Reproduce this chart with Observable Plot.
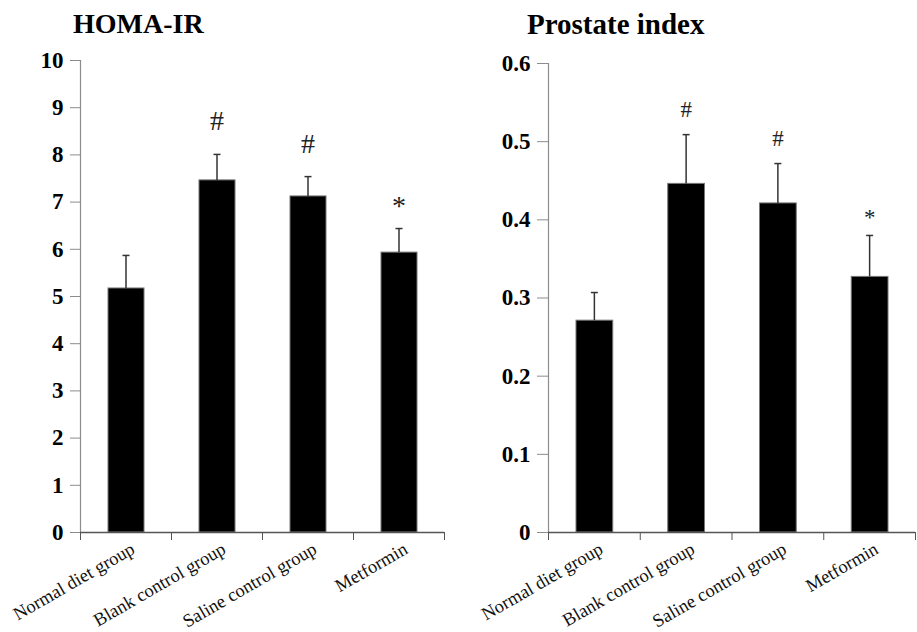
<!DOCTYPE html>
<html><head><meta charset="utf-8">
<script src="https://cdn.jsdelivr.net/npm/d3@7"></script>
<script src="https://cdn.jsdelivr.net/npm/@observablehq/plot@0.6"></script>
<style>
body{margin:0;background:#fff;}
#wrap{position:relative;width:917px;height:632px;font-family:"Liberation Serif","Times New Roman",serif;overflow:hidden;}
#wrap svg, #wrap svg text{font-family:"Liberation Serif","Times New Roman",serif !important;}
.title{position:absolute;font-weight:bold;line-height:1;white-space:nowrap;color:#000;}
.panel{position:absolute;top:0;}
</style></head><body>
<div id="wrap">
  <div id="p1" class="panel" style="left:0px"></div>
  <div id="p2" class="panel" style="left:460px"></div>
  <div class="title" style="left:73px;top:10px;font-size:28px">HOMA-IR</div>
  <div class="title" style="left:527px;top:10px;font-size:29px">Prostate index</div>
</div>
<script>
// ---- data ----
const categories = ["Normal diet group", "Blank control group", "Saline control group", "Metformin"];
const homaMean = [5.17, 7.46, 7.12, 5.93];
const homaErr = [0.70, 0.55, 0.42, 0.51];
const homaMarks = ["", "#", "#", "*"];
const homaTicks = [0, 1, 2, 3, 4, 5, 6, 7, 8, 9, 10];
const prostateMean = [0.271, 0.446, 0.421, 0.327];
const prostateErr = [0.036, 0.063, 0.051, 0.053];
const prostateMarks = ["", "#", "#", "*"];
const prostateTicks = [0, 0.1, 0.2, 0.3, 0.4, 0.5, 0.6];

const SERIF = "Liberation Serif, Times New Roman, serif";
const capSymbol = {
  draw(ctx, size) {
    const w = Math.sqrt(size / Math.PI);
    ctx.moveTo(-w, 0);
    ctx.lineTo(w, 0);
  }
};

function panel(o) {
  const rows = categories.map((c, i) => ({i, c, v: o.means[i], e: o.means[i] + o.errs[i], m: o.marks[i]}));
  const bounds = d3.range(categories.length + 1);
  const yDomain = [o.ticks[0], o.ticks[o.ticks.length - 1]];
  return Plot.plot({
    width: o.width, height: 632,
    marginLeft: o.marginLeft, marginRight: o.marginRight, marginTop: o.marginTop, marginBottom: 100,
    style: {fontFamily: SERIF, background: "transparent", overflow: "visible", color: "#000"},
    x: {type: "linear", domain: [0, categories.length], axis: null},
    y: {domain: yDomain, axis: null},
    marks: [
      Plot.axisY({ticks: o.ticks, tickSize: o.tickSize, tickPadding: 7, tickFormat: d => String(d),
        fontSize: 23, fontWeight: "bold", fontFamily: SERIF, stroke: "#8c8c8c", fill: "#000", label: null}),
      Plot.ruleX([0], {y1: yDomain[0], y2: yDomain[1], stroke: "#8c8c8c", strokeWidth: 1.2}),
      Plot.axisX({ticks: bounds, tickSize: 8, tickPadding: 0, tickFormat: () => "", stroke: "#555", label: null}),
      Plot.rectY(rows, {x1: d => d.i, x2: d => d.i + 1, y: "v", insetLeft: 28, insetRight: 27,
        fill: "#000", stroke: "#777", strokeWidth: 1}),
      Plot.ruleY([0], {stroke: "#555", strokeWidth: 1.5}),
      Plot.ruleX(rows, {x: d => d.i + 0.5, y1: "v", y2: "e", stroke: "#333", strokeWidth: 1.5}),
      Plot.dot(rows, {x: d => d.i + 0.5, y: "e", symbol: capSymbol, r: 3.5, stroke: "#333", strokeWidth: 1.5, fill: "none"}),
      Plot.text(rows.filter(d => d.m === "#"), {x: d => d.i + 0.5, y: "e", text: "m", lineAnchor: "bottom",
        dy: o.hashDy, fontSize: o.markSize, fontFamily: SERIF, fill: "#222"}),
      Plot.text(rows.filter(d => d.m === "*"), {x: d => d.i + 0.5, y: "e", text: "m", lineAnchor: "bottom",
        dy: o.starDy, fontSize: o.markSize, fontFamily: SERIF, fill: "#222"}),
      Plot.text(rows, {x: d => d.i + 0.5, frameAnchor: "bottom", text: "c", rotate: -30,
        textAnchor: "end", lineAnchor: "bottom", dx: 10, dy: 20, fontSize: 18.5, fontFamily: SERIF, fill: "#111"})
    ]
  });
}

document.getElementById("p1").append(panel({
  means: homaMean, errs: homaErr, marks: homaMarks, ticks: homaTicks,
  width: 460, marginLeft: 80, marginRight: 16, marginTop: 60, tickSize: 10,
  markSize: 28, hashDy: -24, starDy: -14
}));
document.getElementById("p2").append(panel({
  means: prostateMean, errs: prostateErr, marks: prostateMarks, ticks: prostateTicks,
  width: 457, marginLeft: 88, marginRight: 2, marginTop: 63, tickSize: 11,
  markSize: 23, hashDy: -18, starDy: -10
}));
</script>
</body></html>
